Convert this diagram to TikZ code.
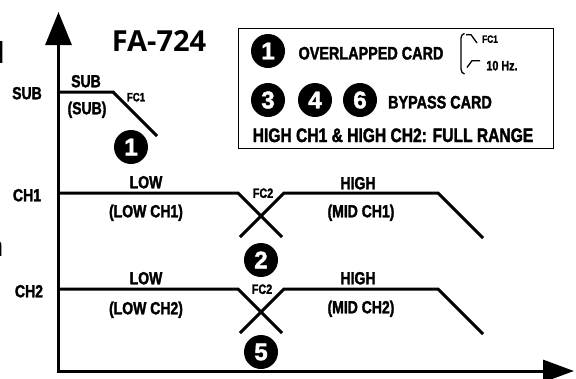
\documentclass[tikz,border=0pt]{standalone}
\usepackage{fontspec}
\setmainfont{Liberation Sans}
\newfontfamily\lab{Liberation Sans}[FakeStretch=0.8,FakeBold=1.8]
\newfontfamily\num{Liberation Sans}[FakeBold=2]
\newfontfamily\ttl{Open Sans}
\usetikzlibrary{arrows.meta}
\tikzset{
  axis/.style={line width=3pt, line join=miter},
  sig/.style={line width=3pt, line join=miter},
  thin/.style={line width=1.3pt},
  lbl/.style={inner sep=0pt, font=\lab\bfseries\fontsize{17.5}{17.5}\selectfont, text height=12.5pt, text depth=0pt},
  fctxt/.style={inner sep=0pt, font=\lab\bfseries\fontsize{13.5}{13.5}\selectfont, text height=9.7pt, text depth=0pt},
  fcsmall/.style={inner sep=0pt, font=\lab\bfseries\fontsize{12}{12}\selectfont, text height=8.6pt, text depth=0pt},
  legtxt/.style={inner sep=0pt, font=\lab\bfseries\fontsize{18}{18}\selectfont, text height=12.9pt, text depth=0pt},
  legbig/.style={inner sep=0pt, font=\lab\bfseries\fontsize{19.5}{19.5}\selectfont, text height=14pt, text depth=0pt},
  numdot/.style={circle, fill=black, minimum size=34pt, inner sep=0pt, text=white, font=\num\bfseries\fontsize{24}{24}\selectfont},
  frag/.style={inner sep=0pt, anchor=base east, font=\ttl\bfseries\fontsize{29}{29}\selectfont},
}
\begin{document}
\begin{tikzpicture}[x=1pt,y=-1pt]
\useasboundingbox (0,0) rectangle (576,378);

% cut-off fragments at left edge
\node[frag] (fragd) at (5,63) {d};
\node[frag] (fragn) at (4,256) {n};

% axes
\coordinate (Ytip) at (58.5,12);
\coordinate (O) at (58.5,371);
\coordinate (Xtip) at (574,371);
\draw[axis, {Triangle[length=33pt,width=26pt]}-{Triangle[length=31pt,width=22pt]}] (Ytip) -- (O) -- (Xtip);

% title
\node[inner sep=0pt, font=\ttl\bfseries\fontsize{29}{29}\selectfont, text height=20.8pt, text depth=0pt] (title) at (159,41) {FA-724};

% SUB
\coordinate (s0) at (58.5,92);
\coordinate (s1) at (113,92);
\coordinate (s2) at (157,136);
\draw[sig] (s0) -- (s1) -- (s2);
\node[lbl] (subL) at (27,93) {SUB};
\node[lbl] (subA) at (86,81) {SUB};
\node[lbl] (subB) at (87,108) {(SUB)};
\node[fcsmall] (fc1) at (136,97) {FC1};
\node[numdot] (n1) at (131,147) {1};

% CH1
\coordinate (a0) at (58.5,193);
\coordinate (a1) at (238,193);
\coordinate (a2) at (282,237);
\coordinate (a3) at (240,237);
\coordinate (a4) at (284,193);
\coordinate (a5) at (438,193);
\coordinate (a6) at (483,238);
\draw[sig] (a0) -- (a1) -- (a2);
\draw[sig] (a3) -- (a4) -- (a5) -- (a6);
\node[lbl] (ch1) at (27,195) {CH1};
\node[lbl] (low1) at (146,182) {LOW};
\node[lbl] (lowch1) at (146,211) {(LOW CH1)};
\node[fctxt] (fc2a) at (263,193) {FC2};
\node[numdot] (n2) at (261,260) {2};
\node[lbl] (high1) at (358,183) {HIGH};
\node[lbl] (midch1) at (361,211) {(MID CH1)};

% CH2
\coordinate (b0) at (58.5,289);
\coordinate (b1) at (238,289);
\coordinate (b2) at (282,333);
\coordinate (b3) at (240,333);
\coordinate (b4) at (284,289);
\coordinate (b5) at (438,289);
\coordinate (b6) at (483,334);
\draw[sig] (b0) -- (b1) -- (b2);
\draw[sig] (b3) -- (b4) -- (b5) -- (b6);
\node[lbl] (ch2) at (29,291) {CH2};
\node[lbl] (low2) at (146,278) {LOW};
\node[lbl] (lowch2) at (146,308) {(LOW CH2)};
\node[fctxt] (fc2b) at (262,289) {FC2};
\node[numdot] (n5) at (261,352) {5};
\node[lbl] (high2) at (358,278) {HIGH};
\node[lbl] (midch2) at (361,307) {(MID CH2)};

% legend
\node[draw, thin, minimum width=315pt, minimum height=120pt, inner sep=0pt, anchor=north west] (legend) at (238,28) {};
\node[numdot] (l1) at (268,51) {1};
\node[legtxt] (ovl) at (371,53) {OVERLAPPED CARD};
\draw[thin] (464.5,33.5) to[out=180,in=80] (461,38) -- (461,69) to[out=-80,in=180] (464.5,74);
\draw[thin] (466,34.7) -- (471,34.7) -- (477,43);
\node[fcsmall, font=\lab\bfseries\fontsize{10.5}{10.5}\selectfont, text height=7.5pt] (lfc1) at (490,39) {FC1};
\draw[thin] (467,67.5) -- (472,60.7) -- (480,60.7);
\node[fctxt] (lhz) at (502,65.5) {10 Hz.};
\node[numdot] (l3) at (268,100) {3};
\node[numdot] (l4) at (315,100) {4};
\node[numdot] (l6) at (360,100) {6};
\node[legtxt] (byp) at (440,102) {BYPASS CARD};
\node[legbig] (full) at (393,135) {HIGH CH1 \& HIGH CH2: FULL RANGE};
\end{tikzpicture}
\end{document}
